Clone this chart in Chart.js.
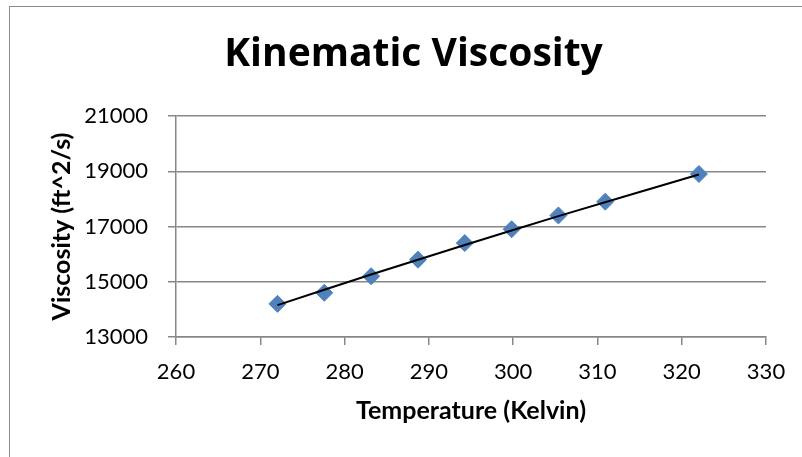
<!DOCTYPE html>
<html>
<head>
<meta charset="utf-8">
<title>Kinematic Viscosity</title>
<script src="https://cdn.jsdelivr.net/npm/chart.js@4/dist/chart.umd.min.js"></script>
<style>
  html, body { margin: 0; padding: 0; background: #ffffff; overflow: hidden; }
  #frame { position: relative; width: 802px; height: 457px; }
  #outline { position: absolute; left: 9px; top: 6px; width: 830px; height: 480px;
             border-left: 1px solid #8a8a8a; border-top: 1px solid #8a8a8a; pointer-events: none; }
  canvas { position: absolute; left: 0; top: 0; }
</style>
</head>
<body>
<div id="frame">
  <canvas id="chart" width="802" height="457"></canvas>
  <div id="outline"></div>
</div>
<script>
// Measured temperature (K) and kinematic viscosity samples
const chartTitle = 'Kinematic Viscosity';
const xAxisTitle = 'Temperature (Kelvin)';
const yAxisTitle = 'Viscosity (ft^2/s)';

const temperatureK = [272.04, 277.59, 283.15, 288.71, 294.26, 299.82, 305.37, 310.93, 322.04];
const viscosity    = [14200, 14600, 15200, 15800, 16400, 16900, 17400, 17900, 18900];

// Trendline through the samples
const trendTemperatureK = [272.04, 283.15, 294.26, 305.37, 322.04];
const trendViscosity    = [14155, 15260, 16330, 17375, 18885];

// Axis ranges and tick steps
const xRange = [260, 330], xStep = 10;
const yRange = [13000, 21000], yStep = 2000;

const gridColor = '#878787';
const markerColor = '#4f81bd';

const toPoints = (xs, ys) => xs.map((x, i) => ({ x: x, y: ys[i] }));
const plainNumber = (v) => String(v);

// Heading drawn centred over the whole framed chart
const headingPlugin = {
  id: 'heading',
  afterDraw(chart) {
    const ctx = chart.ctx;
    ctx.save();
    ctx.font = 'bold 39px "Open Sans"';
    ctx.fillStyle = '#000000';
    ctx.textAlign = 'center';
    ctx.textBaseline = 'alphabetic';
    ctx.fillText(chartTitle, 413.5, 66);
    ctx.restore();
  }
};

new Chart(document.getElementById('chart'), {
  type: 'scatter',
  data: {
    datasets: [
      {
        type: 'line',
        label: 'Trend',
        data: toPoints(trendTemperatureK, trendViscosity),
        borderColor: '#000000',
        borderWidth: 2,
        pointRadius: 0,
        fill: false,
        tension: 0.4,
        order: 0
      },
      {
        label: 'Viscosity',
        data: toPoints(temperatureK, viscosity),
        pointStyle: 'rectRot',
        pointRadius: 8.5,
        pointBackgroundColor: markerColor,
        pointBorderColor: markerColor,
        pointBorderWidth: 1,
        showLine: false,
        order: 1
      }
    ]
  },
  options: {
    responsive: false,
    animation: false,
    layout: { padding: { left: 0, right: 36, top: 116, bottom: 0 } },
    plugins: {
      legend: { display: false },
      tooltip: { enabled: false },
      title: { display: false }
    },
    scales: {
      x: {
        type: 'linear',
        min: xRange[0], max: xRange[1],
        ticks: { stepSize: xStep, padding: 14, color: '#000000', callback: plainNumber,
                 font: { family: 'Lato', size: 22 } },
        grid: { drawOnChartArea: false, drawTicks: true, tickLength: 8, color: gridColor, lineWidth: 1.5 },
        border: { display: true, color: gridColor, width: 1.5 },
        title: { display: true, text: xAxisTitle, color: '#000000',
                 font: { family: 'Lato', size: 25, weight: 'bold' }, padding: { top: 0, bottom: 31 } },
        afterFit(scale) { scale.height = 120; }
      },
      y: {
        type: 'linear',
        min: yRange[0], max: yRange[1],
        ticks: { stepSize: yStep, padding: 20, color: '#000000', callback: plainNumber,
                 font: { family: 'Lato', size: 22 } },
        grid: { drawOnChartArea: true, drawTicks: true, tickLength: 8, color: gridColor, lineWidth: 1.5 },
        border: { display: true, color: gridColor, width: 1.5 },
        title: { display: true, text: yAxisTitle, color: '#000000',
                 font: { family: 'Lato', size: 25, weight: 'bold' }, padding: { top: 47, bottom: 0 } },
        afterFit(scale) { scale.width = 176; }
      }
    }
  },
  plugins: [headingPlugin]
});
</script>
</body>
</html>
